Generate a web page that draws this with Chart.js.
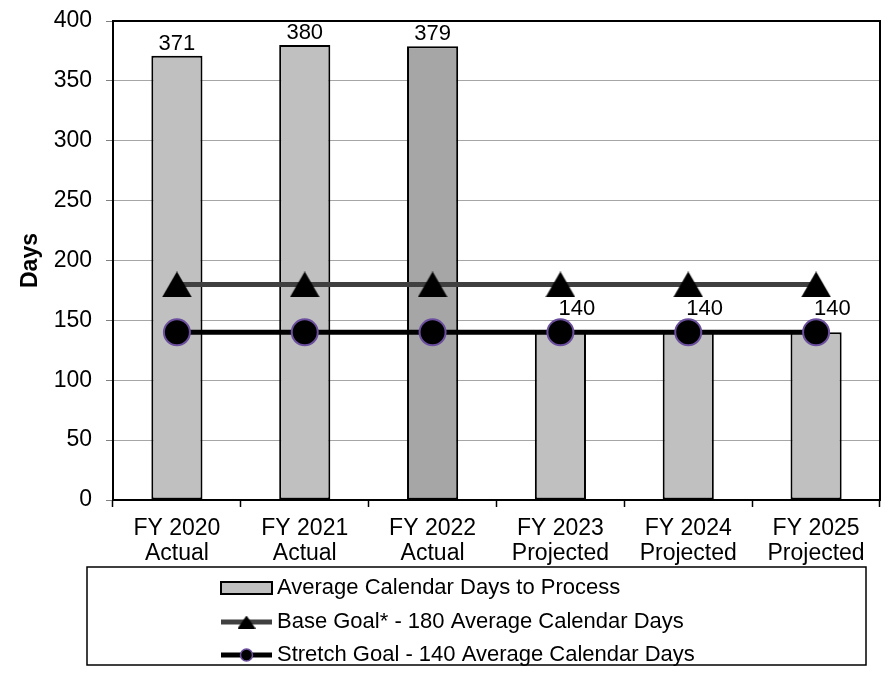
<!DOCTYPE html>
<html>
<head>
<meta charset="utf-8">
<script src="https://cdn.jsdelivr.net/npm/chart.js@4"></script>
<style>
  html, body { margin: 0; padding: 0; background: #fff; overflow: hidden; }
  #wrap { width: 891px; height: 675px; }
  canvas { display: block; }
</style>
</head>
<body>
<div id="wrap"><canvas id="c" width="891" height="675"></canvas></div>
<script>
// ---- data ----
const categories = [
  ['FY 2020', 'Actual'],
  ['FY 2021', 'Actual'],
  ['FY 2022', 'Actual'],
  ['FY 2023', 'Projected'],
  ['FY 2024', 'Projected'],
  ['FY 2025', 'Projected']
];
const avgDays = [371, 380, 379, 140, 140, 140];
const baseGoal = [180, 180, 180, 180, 180, 180];
const stretchGoal = [140, 140, 140, 140, 140, 140];
const seriesNames = [
  'Average Calendar Days to Process',
  'Base Goal* - 180 Average Calendar Days',
  'Stretch Goal - 140 Average Calendar Days'
];
const yAxisTitle = 'Days';
const yMin = 0, yMax = 400, yStep = 50;

// ---- styling ----
const FONT = '"Liberation Sans", Arial, sans-serif';
const FS_AXIS = 23;
const FS_TEXT = 22;
const BAR_LIGHT = '#c0c0c0';
const BAR_DARK = '#a6a6a6';
const BASE_LINE = '#404040';
const STRETCH_LINE = '#000000';
const CIRCLE_EDGE = '#6b4f9e';

function triangleMarker(w, h, color) {
  const c = document.createElement('canvas');
  c.width = w; c.height = h;
  const g = c.getContext('2d');
  g.fillStyle = color;
  g.beginPath();
  g.moveTo(w / 2, 0);
  g.lineTo(w, h);
  g.lineTo(0, h);
  g.closePath();
  g.fill();
  return c;
}
const triBig = triangleMarker(30, 26, '#000');
const triSmall = triangleMarker(18, 13, '#000');

// frame around the plot area (top and right edges)
const plotFrame = {
  id: 'plotFrame',
  beforeDatasetsDraw(chart) {
    const { ctx, chartArea: a } = chart;
    ctx.save();
    ctx.strokeStyle = '#000';
    ctx.lineWidth = 2;
    ctx.beginPath();
    ctx.moveTo(a.left, a.top);
    ctx.lineTo(a.right, a.top);
    ctx.lineTo(a.right, a.bottom);
    ctx.stroke();
    ctx.restore();
  }
};

// value labels above the bars
const barValueLabels = {
  id: 'barValueLabels',
  afterDatasetsDraw(chart) {
    const { ctx } = chart;
    const meta = chart.getDatasetMeta(0);
    const values = chart.data.datasets[0].data;
    ctx.save();
    ctx.font = FS_TEXT + 'px ' + FONT;
    ctx.fillStyle = '#000';
    ctx.textBaseline = 'alphabetic';
    meta.data.forEach((bar, i) => {
      const v = values[i];
      // labels sitting at the stretch-goal marker are nudged up and to the right
      if (Math.abs(v - stretchGoal[i]) < 20) {
        ctx.textAlign = 'left';
        ctx.fillText(String(v), bar.x - 2, bar.y - 17);
      } else {
        ctx.textAlign = 'center';
        ctx.fillText(String(v), bar.x, bar.y - 6);
      }
    });
    ctx.restore();
  }
};

// boxed legend below the axis
const boxedLegend = {
  id: 'boxedLegend',
  afterDraw(chart) {
    const { ctx } = chart;
    const ds = chart.data.datasets;
    const box = { x: 87, y: 567, w: 779, h: 98 };
    ctx.save();
    ctx.strokeStyle = '#000';
    ctx.lineWidth = 1.5;
    ctx.strokeRect(box.x, box.y, box.w, box.h);
    const sx = 221, sw = 51, tx = 277;
    const rows = [588, 622, 655];
    ctx.font = FS_TEXT + 'px ' + FONT;
    ctx.textAlign = 'left';
    ctx.textBaseline = 'middle';
    ds.forEach((d, i) => {
      const y = rows[i];
      if (d.type === 'bar') {
        ctx.fillStyle = BAR_LIGHT;
        ctx.fillRect(sx, y - 6, sw, 12);
        ctx.strokeStyle = '#000';
        ctx.lineWidth = 2;
        ctx.strokeRect(sx, y - 6, sw, 12);
      } else {
        ctx.strokeStyle = d.borderColor;
        ctx.lineWidth = d.borderWidth;
        ctx.beginPath();
        ctx.moveTo(sx, y);
        ctx.lineTo(sx + sw, y);
        ctx.stroke();
        if (d.pointStyle === 'circle') {
          ctx.fillStyle = '#000';
          ctx.strokeStyle = CIRCLE_EDGE;
          ctx.lineWidth = 1.5;
          ctx.beginPath();
          ctx.arc(sx + sw / 2, y, 6, 0, Math.PI * 2);
          ctx.fill();
          ctx.stroke();
        } else {
          ctx.drawImage(triSmall, sx + sw / 2 - triSmall.width / 2, y - triSmall.height / 2);
        }
      }
      ctx.fillStyle = '#000';
      ctx.fillText(d.label, tx, y);
    });
    ctx.restore();
  }
};

new Chart(document.getElementById('c'), {
  data: {
    labels: categories,
    datasets: [
      {
        type: 'bar',
        label: seriesNames[0],
        data: avgDays,
        backgroundColor: avgDays.map((_, i) => i === 2 ? BAR_DARK : BAR_LIGHT),
        borderColor: '#000',
        borderWidth: 2,
        borderSkipped: false,
        barPercentage: 0.4,
        categoryPercentage: 1.0,
        order: 3
      },
      {
        type: 'line',
        label: seriesNames[1],
        data: baseGoal,
        borderColor: BASE_LINE,
        borderWidth: 5,
        pointStyle: triBig,
        pointRadius: 15,
        order: 2
      },
      {
        type: 'line',
        label: seriesNames[2],
        data: stretchGoal,
        borderColor: STRETCH_LINE,
        borderWidth: 5,
        pointStyle: 'circle',
        pointRadius: 13,
        pointBackgroundColor: '#000',
        pointBorderColor: CIRCLE_EDGE,
        pointBorderWidth: 2,
        order: 1
      }
    ]
  },
  options: {
    responsive: false,
    animation: false,
    devicePixelRatio: 1,
    layout: { autoPadding: false, padding: { top: 21, right: 11, left: 0, bottom: 0 } },
    plugins: {
      legend: { display: false },
      tooltip: { enabled: false }
    },
    scales: {
      x: {
        offset: true,
        grid: {
          offset: true,
          drawOnChartArea: false,
          drawTicks: true,
          tickLength: 7,
          tickColor: '#000',
          tickWidth: 1.5
        },
        border: { color: '#000', width: 2 },
        ticks: {
          color: '#000',
          padding: 9,
          maxRotation: 0,
          autoSkip: false,
          font: { family: FONT, size: FS_AXIS, lineHeight: 1.1 }
        },
        afterFit(scale) {
          scale.height = 175;
          scale.paddingLeft = 0;
          scale.paddingRight = 0;
        }
      },
      y: {
        min: yMin,
        max: yMax,
        grid: {
          color: '#a6a6a6',
          lineWidth: 1,
          tickLength: 7,
          tickColor: '#808080'
        },
        border: { color: '#000', width: 2 },
        ticks: {
          stepSize: yStep,
          color: '#000',
          padding: 14,
          font: { family: FONT, size: FS_AXIS }
        },
        title: {
          display: true,
          text: yAxisTitle,
          color: '#000',
          padding: { top: 17, bottom: 0 },
          font: { family: FONT, size: FS_AXIS, weight: 'bold' }
        },
        afterFit(scale) {
          scale.width = 113;
          scale.paddingTop = 0;
          scale.paddingBottom = 0;
        }
      }
    }
  },
  plugins: [plotFrame, barValueLabels, boxedLegend]
});
</script>
</body>
</html>
